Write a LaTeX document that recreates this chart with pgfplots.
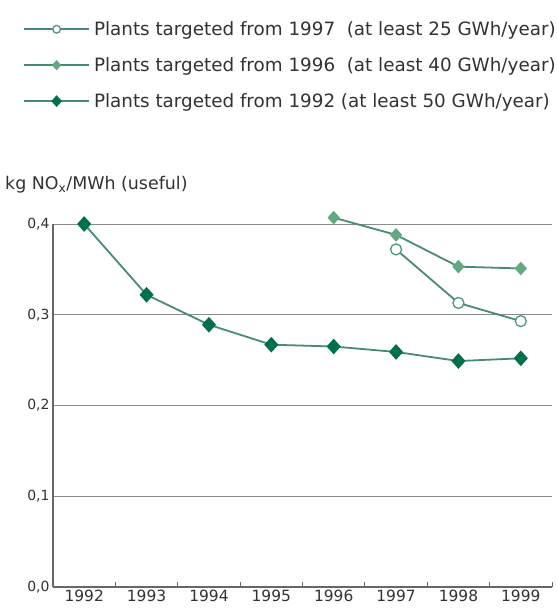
\documentclass[border=0pt]{standalone}
\usepackage{fontspec}
\setmainfont{DejaVu Sans}
\usepackage{pgfplots}
\pgfplotsset{compat=1.18}

\definecolor{linecol}{RGB}{70,140,110}
\definecolor{dkgreen}{RGB}{0,112,72}
\definecolor{mdgreen}{RGB}{100,168,130}
\definecolor{opengreen}{RGB}{80,150,120}
\definecolor{gridgray}{RGB}{140,140,140}
\definecolor{txt}{RGB}{50,50,50}

\begin{document}
\begin{tikzpicture}
\path[use as bounding box] (-53bp,-27bp) rectangle (504bp,587bp);
\begin{axis}[
  scale only axis, width=499bp, height=363bp,
  xmin=0.5, xmax=8.5, ymin=0, ymax=0.4,
  axis x line*=bottom, axis y line*=left,
  axis line style={black!60, line width=1.3pt, -},
  xtick={1,2,3,4,5,6,7,8},
  xticklabels={1992,1993,1994,1995,1996,1997,1998,1999},
  major x tick style={draw=none},
  minor xtick={1.5,2.5,3.5,4.5,5.5,6.5,7.5,8.5},
  minor x tick style={black!60, line width=1pt},
  minor tick length=5bp, tick align=inside,
  ytick={0,0.1,0.2,0.3,0.4},
  major y tick style={draw=none},
  ymajorgrids, major grid style={gridgray, line width=1pt},
  yticklabel style={/pgf/number format/fixed, /pgf/number format/fixed zerofill,
    /pgf/number format/precision=1, /pgf/number format/use comma,
    font=\fontsize{14}{16}\selectfont, text=txt},
  /pgf/number format/assume math mode=true,
  xticklabel style={font=\fontsize{15.5}{17}\selectfont, text=txt},
  clip=false,
  legend cell align=left,
  legend style={at={(axis description cs:-0.0601,1.561)}, anchor=north west,
    draw=none, fill=none, inner sep=0pt, row sep=18.5bp, column sep=3bp,
    font=\fontsize{18.4}{20}\selectfont, text=txt,
    nodes={inner sep=1bp}},
  legend image code/.code={\draw[mark repeat=2,mark phase=2,#1,
      every mark/.append style={scale=0.7}]
      plot coordinates {(0bp,0bp) (32.5bp,0bp) (65bp,0bp)};},
]
% plants targeted from 1997 (at least 25 GWh/year)
\addplot[linecol, line width=1.8pt, mark=*, mark size=5.5bp,
  mark options={fill=white, draw=opengreen, line width=1.3pt}]
  coordinates {(6,0.372) (7,0.313) (8,0.293)};
% plants targeted from 1996 (at least 40 GWh/year)
\addplot[linecol, line width=1.8pt, mark=diamond*, mark size=5.5bp,
  mark options={fill=mdgreen, draw=mdgreen, xscale=1.2}]
  coordinates {(5,0.407) (6,0.388) (7,0.353) (8,0.351)};
% plants targeted from 1992 (at least 50 GWh/year)
\addplot[linecol, line width=1.8pt, mark=diamond*, mark size=6.5bp,
  mark options={fill=dkgreen, draw=dkgreen, xscale=1.2}]
  coordinates {(1,0.400) (2,0.322) (3,0.289) (4,0.267) (5,0.265) (6,0.259) (7,0.249) (8,0.252)};
\legend{Plants targeted from 1997\ \ (at least 25 GWh/year),
        Plants targeted from 1996\ \ (at least 40 GWh/year),
        Plants targeted from 1992 (at least 50 GWh/year)}
\end{axis}
\node[anchor=base west, inner sep=0pt, font=\fontsize{17.5}{19}\selectfont, text=txt]
  at (-48bp,397bp) {kg NO\textsubscript{x}/MWh (useful)};
\end{tikzpicture}
\end{document}
